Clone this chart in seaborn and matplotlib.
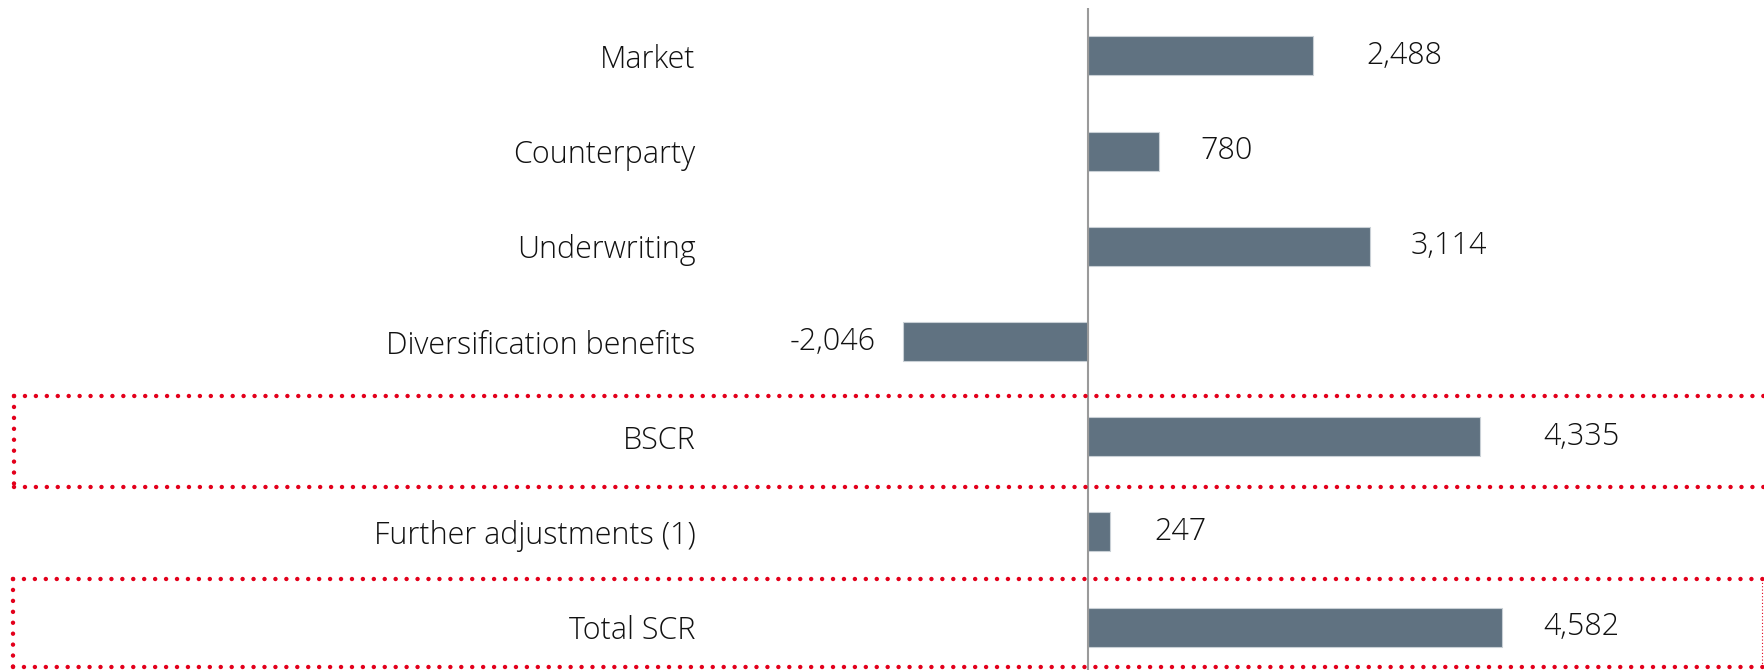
import matplotlib
matplotlib.use("Agg")
import matplotlib.pyplot as plt
from matplotlib.lines import Line2D
import seaborn as sns
import pandas as pd

# SCR breakdown
categories = ["Market", "Counterparty", "Underwriting", "Diversification benefits",
              "BSCR", "Further adjustments (1)", "Total SCR"]
values = [2488, 780, 3114, -2046, 4335, 247, 4582]
value_labels = ["2,488", "780", "3,114", "-2,046", "4,335", "247", "4,582"]

# distance (px) between bar end and its value label
label_gap_px = [53, 42, 41, 27, 63, 44, 41]

W, H, DPI = 1765, 670, 100
BAR = "#607281"
RED = "#e3001b"
FS = 22

sns.set_theme(style="white")
plt.rcParams["font.family"] = ["Open Sans", "DejaVu Sans"]

fig = plt.figure(figsize=(W / DPI, H / DPI), dpi=DPI)
# axes placed in pixel terms: left edge 700, zero line at 1088
ax = fig.add_axes([700 / W, -4.6 / H, (W - 700) / W, 666.2 / H])

df = pd.DataFrame({"cat": categories, "val": values})
sns.barplot(data=df, x="val", y="cat", orient="h", color=BAR, saturation=1,
            width=0.41, edgecolor="#c9d0d6", linewidth=0.8, ax=ax)

px_per_unit = (1313 - 1088) / 2488
ax.set_xlim((700 - 1088) / px_per_unit, (W - 1088) / px_per_unit)
ax.set_ylim(6.5, -0.5)

ax.axvline(0, color="#9a9a9a", lw=1.5, zorder=3)
for s in ax.spines.values():
    s.set_visible(False)
ax.set_xticks([])
ax.set_xlabel("")
ax.set_ylabel("")
ax.tick_params(axis="y", length=0, pad=3, labelsize=FS, labelcolor="#111111")
for t in ax.get_yticklabels():
    t.set_fontweight("light")

for i, (v, lab, gap) in enumerate(zip(values, value_labels, label_gap_px)):
    if v >= 0:
        ax.annotate(lab, (v, i), xytext=(gap * 72 / DPI, 0), textcoords="offset points",
                    ha="left", va="center", fontsize=FS, color="#111111",
                    fontweight="light")
    else:
        ax.annotate(lab, (v, i), xytext=(-gap * 72 / DPI, 0), textcoords="offset points",
                    ha="right", va="center", fontsize=FS, color="#111111",
                    fontweight="light")

# dotted highlight frames around the subtotal rows (figure pixel coordinates)
def px_line(xs, ys):
    ln = Line2D([x / W for x in xs], [1 - y / H for y in ys], transform=fig.transFigure,
                color=RED, lw=3.2, linestyle=(0, (0.01, 2.45)),
                dash_capstyle="round", zorder=10)
    fig.add_artist(ln)

def dotted_box(x0, x1, y0, y1, right=True):
    px_line([x0, x1 + 20], [y0, y0])
    px_line([x0, x1 + 20], [y1, y1])
    px_line([x0, x0], [y0, y1])
    if right:
        r = Line2D([x1 / W, x1 / W], [1 - y0 / H, 1 - y1 / H], transform=fig.transFigure,
                   color=RED, lw=0.8, linestyle=(0, (1, 2)), zorder=10)
        fig.add_artist(r)

dotted_box(14, 1780, 396, 487, right=False)
dotted_box(13, 1762, 579, 667, right=True)

fig.savefig("out.png", dpi=DPI, facecolor="white")
